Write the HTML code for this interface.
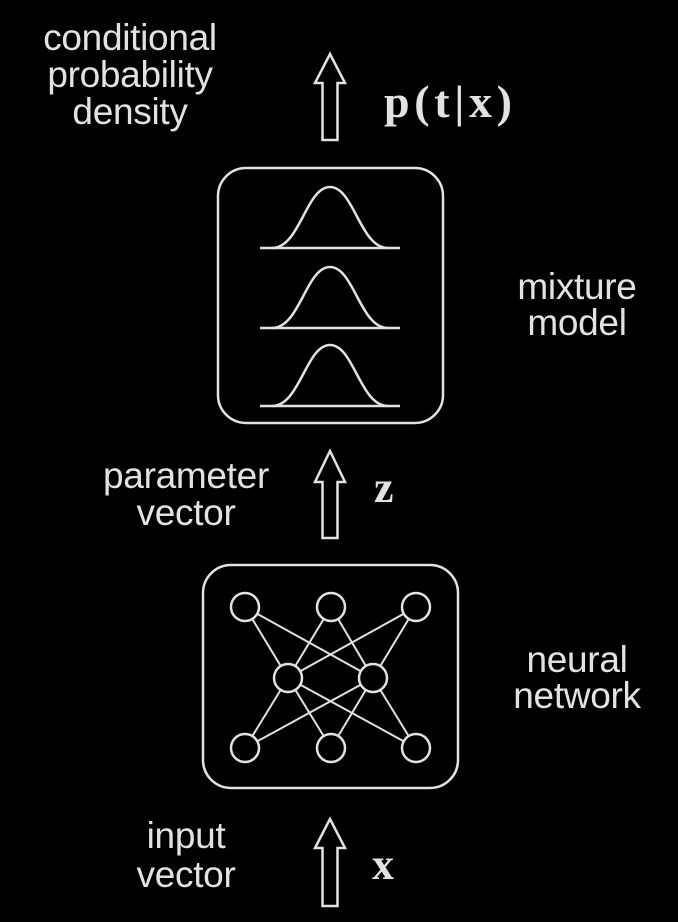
<!DOCTYPE html>
<html><head><meta charset="utf-8"><style>
html,body{margin:0;padding:0;background:#000;width:678px;height:922px;overflow:hidden}
svg{display:block}
.t{font-family:"Liberation Sans",sans-serif;font-size:37px;fill:#e2e2e2;text-anchor:middle;letter-spacing:-0.3px}
.m{font-family:"Liberation Serif",serif;font-weight:bold;fill:#e2e2e2}
</style></head><body>
<svg width="678" height="922" viewBox="0 0 678 922" xmlns="http://www.w3.org/2000/svg">
<g fill="none" stroke="#e2e2e2" stroke-width="2.5">
<path d="M330,54 L345,83 L337.5,83 L337.5,140 L322.5,140 L322.5,83 L315,83 Z"/>
<path d="M330,451 L345,482 L337.5,482 L337.5,538 L322.5,538 L322.5,482 L315,482 Z"/>
<path d="M330,819 L345,848 L337.5,848 L337.5,906 L322.5,906 L322.5,848 L315,848 Z"/>
<rect x="218" y="168" width="225" height="255" rx="28"/>
<line x1="260" y1="248" x2="400" y2="248"/>
<path d="M272,248 C300,248 306,187 330,187 C354,187 360,248 388,248"/>
<line x1="260" y1="328" x2="400" y2="328"/>
<path d="M272,328 C300,328 306,267 330,267 C354,267 360,328 388,328"/>
<line x1="260" y1="406" x2="400" y2="406"/>
<path d="M272,406 C300,406 306,345 330,345 C354,345 360,406 388,406"/>
<rect x="203" y="565" width="255" height="223" rx="28"/>
<g stroke-width="2">
<line x1="245" y1="607" x2="288" y2="678"/><line x1="245" y1="607" x2="373" y2="678"/>
<line x1="331" y1="607" x2="288" y2="678"/><line x1="331" y1="607" x2="373" y2="678"/>
<line x1="416" y1="607" x2="288" y2="678"/><line x1="416" y1="607" x2="373" y2="678"/>
<line x1="245" y1="748" x2="288" y2="678"/><line x1="245" y1="748" x2="373" y2="678"/>
<line x1="331" y1="748" x2="288" y2="678"/><line x1="331" y1="748" x2="373" y2="678"/>
<line x1="416" y1="748" x2="288" y2="678"/><line x1="416" y1="748" x2="373" y2="678"/>
</g>
<g fill="#000">
<circle cx="245" cy="607" r="14"/><circle cx="331" cy="607" r="14"/><circle cx="416" cy="607" r="14"/>
<circle cx="288" cy="678" r="14"/><circle cx="373" cy="678" r="14"/>
<circle cx="245" cy="748" r="14"/><circle cx="331" cy="748" r="14"/><circle cx="416" cy="748" r="14"/>
</g>
</g>
<text class="t" x="130" y="50">conditional</text>
<text class="t" x="130" y="87">probability</text>
<text class="t" x="130" y="124">density</text>
<text class="t" x="577" y="299">mixture</text>
<text class="t" x="577" y="335">model</text>
<text class="t" x="186" y="488">parameter</text>
<text class="t" x="186" y="525">vector</text>
<text class="t" x="577" y="672">neural</text>
<text class="t" x="577" y="708">network</text>
<text class="t" x="186" y="848">input</text>
<text class="t" x="186" y="887">vector</text>
<text class="m" x="384" y="117" font-size="46" textLength="128" lengthAdjust="spacing">p(t|x)</text>
<text class="m" x="374" y="502" font-size="44">z</text>
<text class="m" x="372" y="879" font-size="44">x</text>
</svg>
</body></html>
